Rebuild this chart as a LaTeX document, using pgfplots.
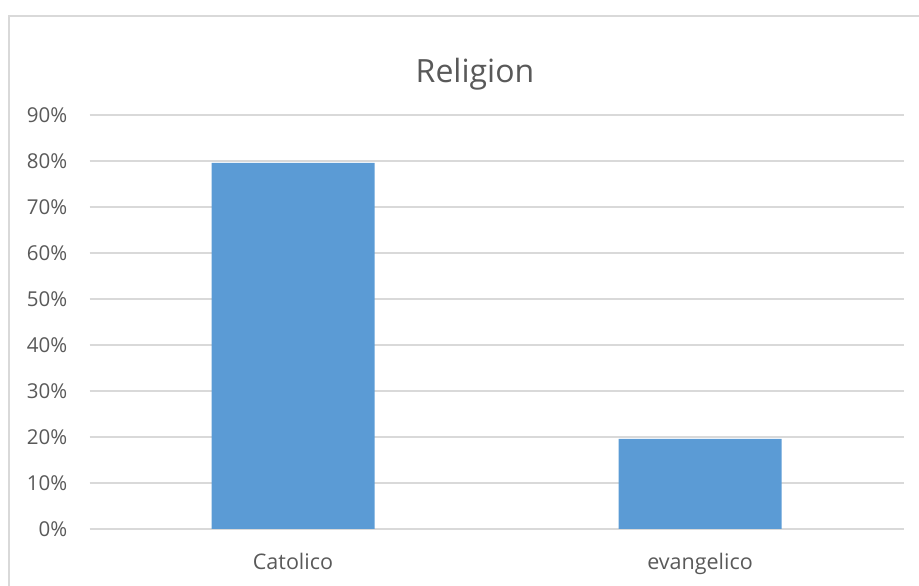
\documentclass[border=0pt]{standalone}
\usepackage{fontspec}
\setmainfont{Open Sans}
\usepackage{pgfplots}
\pgfplotsset{compat=1.18}
\definecolor{barblue}{HTML}{5B9BD5}
\definecolor{gridgray}{HTML}{D9D9D9}
\definecolor{txtgray}{HTML}{595959}
\begin{document}
\begin{tikzpicture}[x=1pt,y=1pt]
\useasboundingbox (0,0) rectangle (919,586);
% chart frame (only left and top edge visible)
\draw[gridgray, line width=1.5pt] (9,-10) |- (940,570);
\node[txtgray, font=\fontsize{32}{36}\selectfont] at (475,512) {Religion};
\begin{axis}[
  at={(89.5pt,57pt)}, anchor=south west,
  scale only axis, width=814pt, height=414pt,
  ymin=0, ymax=90, ytick={0,10,...,90},
  xmin=-0.5, xmax=1.5,
  xtick=data, xticklabels={Catolico, evangelico},
  yticklabel={\pgfmathprintnumber{\tick}\%},
  /pgf/number format/assume math mode=true,
  ymajorgrids, major grid style={gridgray, line width=1.5pt},
  axis line style={draw=none},
  major tick length=0pt,
  tick label style={txtgray, inner sep=0pt},
  yticklabel style={font=\fontsize{20.5}{22}\selectfont, xshift=-22pt},
  xticklabel style={font=\fontsize{21.5}{24}\selectfont, yshift=-24pt},
  clip=false,
]
\addplot[ybar, bar width=163pt, fill=barblue, draw=none] coordinates {
(0,79.6)
(1,19.6)
};
\end{axis}
\end{tikzpicture}
\end{document}
